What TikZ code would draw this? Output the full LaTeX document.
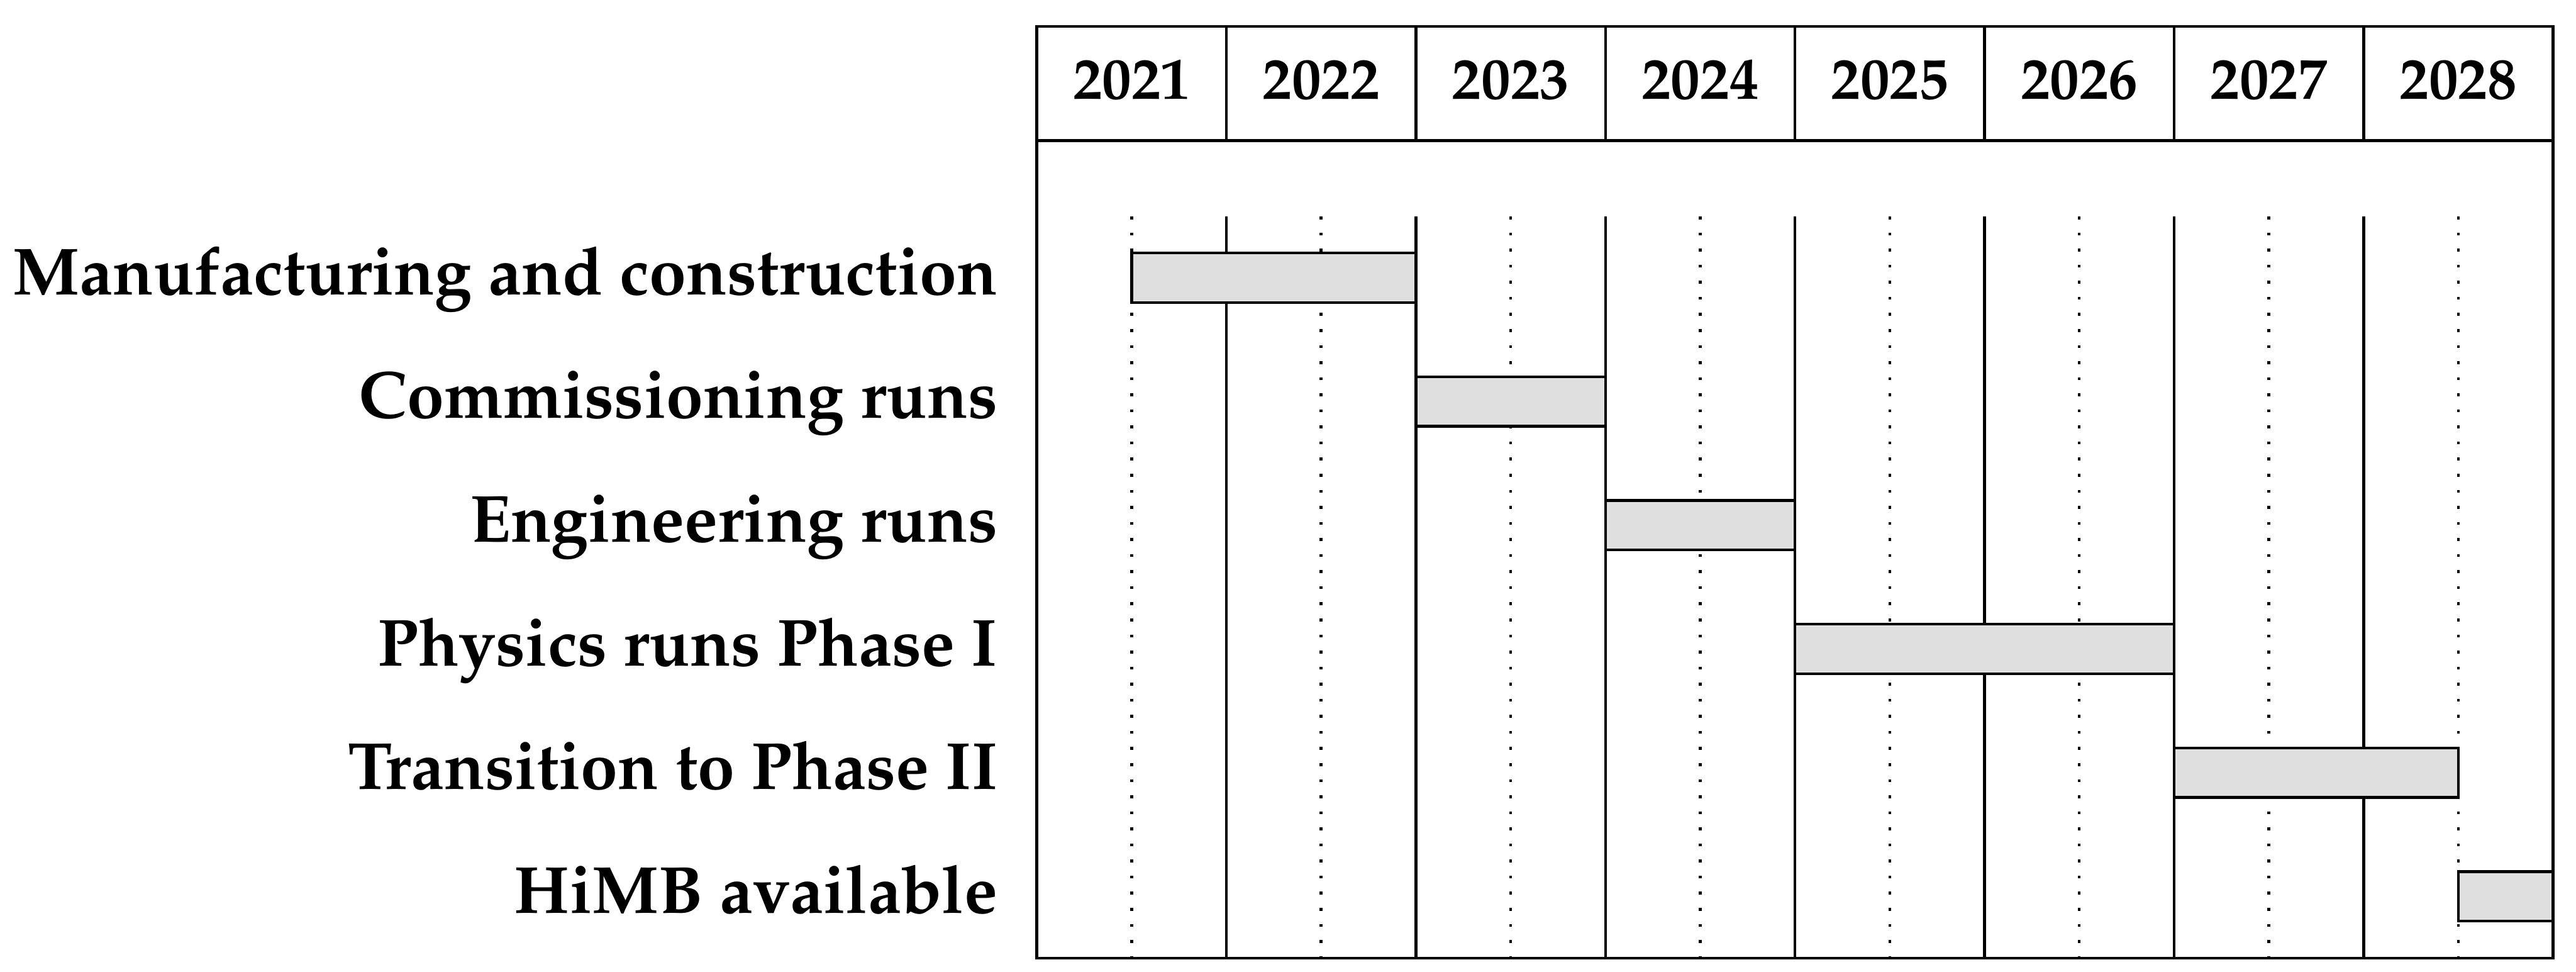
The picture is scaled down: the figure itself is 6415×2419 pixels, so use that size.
\documentclass[tikz,border=0pt]{standalone}
\usepackage[T1]{fontenc}
\usepackage{mathpazo}
\definecolor{barfill}{RGB}{223,223,223}
\tikzset{
  frame/.style={line width=0.07cm, line cap=rect},
  gridline/.style={line width=0.07cm},
  dotline/.style={line width=0.07cm, dash pattern=on 0.07cm off 0.33cm},
  taskbar/.style={draw, line width=0.07cm, fill=barfill},
  tasklabel/.style={anchor=base east, inner sep=0pt, font=\fontsize{47.2}{56}\selectfont\bfseries},
  yearlabel/.style={anchor=base, inner sep=0pt, font=\fontsize{41.5}{50}\selectfont\bfseries}
}
\begin{document}
\begin{tikzpicture}[x=0.01cm, y=-0.01cm]
\useasboundingbox (0,0) rectangle (6415,2419);
% grid coordinates
\foreach \k in {0,...,8} {
  \coordinate (top\k) at ({2582+472*\k},66);
  \coordinate (hb\k) at ({2582+472*\k},350);
  \coordinate (ls\k) at ({2582+472*\k},539);
  \coordinate (bot\k) at ({2582+472*\k},2385);
}
\foreach \k in {0,...,7} {
  \coordinate (dt\k) at ({2818+472*\k},539);
  \coordinate (db\k) at ({2818+472*\k},2385);
}
% dotted half-year lines
\foreach \k in {0,...,7} { \draw[dotline] (dt\k) -- (db\k); }
% solid year lines
\foreach \k in {1,...,7} {
  \draw[gridline] (top\k) -- (hb\k);
  \draw[gridline] (ls\k) -- (bot\k);
}
% frame
\draw[frame] (top0) rectangle (bot8);
\draw[frame] (hb0) -- (hb8);
% years
\foreach \y [count=\i from 0] in {2021,...,2028} {
  \node[yearlabel] (year\y) at ({2818+472*\i},247) {\y};
}
% bars
\draw[taskbar] (2818,630) rectangle (3526,753);
\draw[taskbar] (3526,938) rectangle (3998,1061);
\draw[taskbar] (3998,1246) rectangle (4470,1369);
\draw[taskbar] (4470,1554) rectangle (5414,1677);
\draw[taskbar] (5414,1862) rectangle (6122,1985);
\draw[taskbar] (6122,2170) rectangle (6358,2293);
% labels
\node[tasklabel] (l1) at (2485,733) {Manufacturing and construction};
\node[tasklabel] (l2) at (2485,1041) {Commissioning runs};
\node[tasklabel] (l3) at (2485,1349) {Engineering runs};
\node[tasklabel] (l4) at (2485,1657) {Physics runs Phase I};
\node[tasklabel] (l5) at (2485,1965) {Transition to Phase II};
\node[tasklabel] (l6) at (2485,2273) {HiMB available};
\end{tikzpicture}
\end{document}
